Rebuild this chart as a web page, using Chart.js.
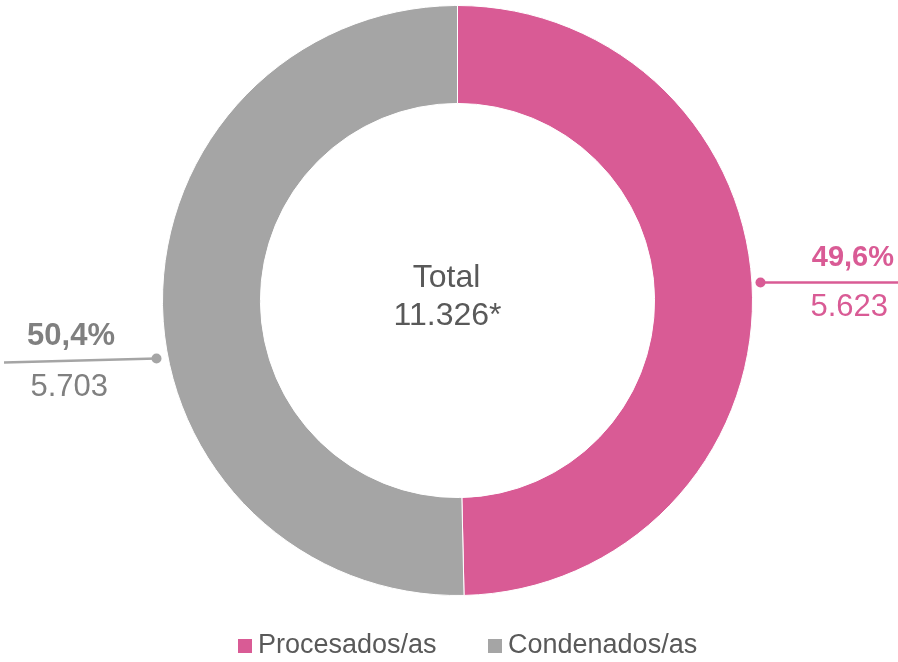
<!DOCTYPE html>
<html>
<head>
<meta charset="utf-8">
<script src="https://cdn.jsdelivr.net/npm/chart.js@4"></script>
<style>
html,body{margin:0;padding:0;background:#fff;}
#wrap{width:898px;height:662px;position:relative;}
</style>
</head>
<body>
<div id="wrap"><canvas id="c" width="898" height="662"></canvas></div>
<script>
const categories = ["Procesados/as", "Condenados/as"];
const values = [5623, 5703];
const colors = ["#D95B95", "#A5A5A5"];
const textColors = ["#D95B95", "#808080"];
const centerTitle = "Total";
const centerSuffix = "*";

function fmtInt(n){ return String(n).replace(/\B(?=(\d{3})+(?!\d))/g, "."); }
function fmtPct(p){ return p.toFixed(1).replace(".", ","); }

const total = values.reduce((a,b)=>a+b,0);

const overlay = {
  id: "overlay",
  afterDraw(chart){
    const ctx = chart.ctx;
    const arc = chart.getDatasetMeta(0).data[0];
    const cx = arc.x, cy = arc.y, R = arc.outerRadius;
    ctx.save();
    // center text
    ctx.fillStyle = "#595959";
    ctx.textAlign = "center";
    ctx.textBaseline = "middle";
    ctx.font = "32px 'Liberation Sans', Arial, sans-serif";
    ctx.fillText(centerTitle, cx - 11, cy - 22);
    ctx.fillText(fmtInt(total) + centerSuffix, cx - 10, cy + 16);

    // slice labels
    const specs = [
      {dot:[cx + R + 8, cy - 18], end:[898, cy - 18], pctR: 894, numR: 888, y1: cy - 43, y2: cy + 7, pf: 29},
      {dot:[cx - R - 6, cy + 58], end:[4, cy + 62], pctR: 115, numR: 108, y1: cy + 36, y2: cy + 87, pf: 31}
    ];
    values.forEach((v,i)=>{
      const s = specs[i];
      ctx.strokeStyle = colors[i];
      ctx.fillStyle = colors[i];
      ctx.lineWidth = 2.5;
      ctx.beginPath();
      ctx.moveTo(s.dot[0], s.dot[1]);
      ctx.lineTo(s.end[0], s.end[1]);
      ctx.stroke();
      ctx.beginPath();
      ctx.arc(s.dot[0], s.dot[1], 5, 0, Math.PI*2);
      ctx.fill();
      ctx.fillStyle = textColors[i];
      ctx.textAlign = "right";
      ctx.textBaseline = "middle";
      ctx.font = "bold " + s.pf + "px 'Liberation Sans', Arial, sans-serif";
      ctx.fillText(fmtPct(v/total*100) + "%", s.pctR, s.y1);
      ctx.font = "31px 'Liberation Sans', Arial, sans-serif";
      ctx.fillText(fmtInt(v), s.numR, s.y2);
    });

    // legend
    const lx = [238, 488];
    ctx.font = "27px 'Liberation Sans', Arial, sans-serif";
    ctx.textAlign = "left";
    ctx.textBaseline = "middle";
    categories.forEach((c,i)=>{
      ctx.fillStyle = colors[i];
      ctx.fillRect(lx[i], 639, 14, 14);
      ctx.fillStyle = "#595959";
      ctx.fillText(c, lx[i] + 20, 646);
    });
    ctx.restore();
  }
};

new Chart(document.getElementById("c"), {
  type: "doughnut",
  data: {
    labels: categories,
    datasets: [{
      data: values,
      backgroundColor: colors,
      borderColor: "#ffffff",
      borderWidth: 1,
      hoverOffset: 0
    }]
  },
  options: {
    responsive: false,
    animation: false,
    cutout: "66.8%",
    layout: { padding: { top: 5, bottom: 66, left: 162, right: 145 } },
    plugins: { legend: { display: false }, tooltip: { enabled: false } }
  },
  plugins: [overlay]
});
</script>
</body>
</html>
